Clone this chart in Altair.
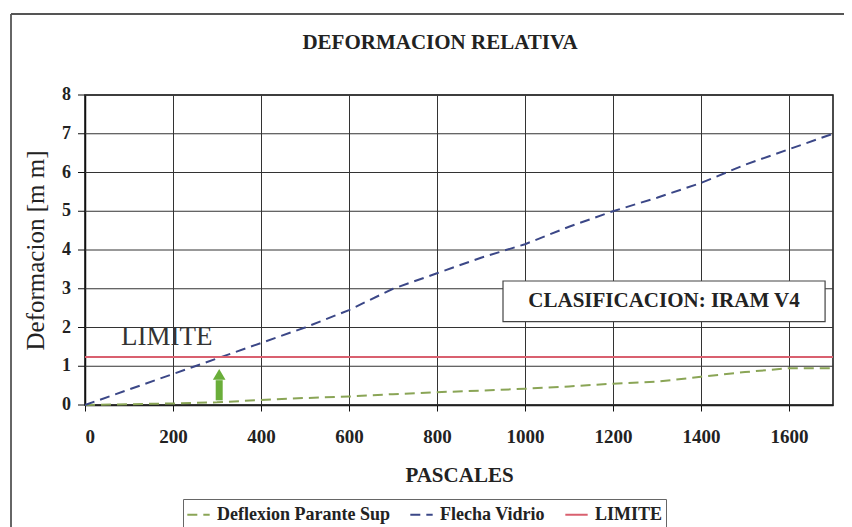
import altair as alt
import pandas as pd

# ---- data ----
pascales = [0, 100, 200, 300, 400, 500, 600, 700, 800, 900, 1000, 1100, 1200, 1300, 1400, 1500, 1600, 1700]
flecha_vidrio = [0, 0.40, 0.80, 1.20, 1.60, 2.00, 2.45, 3.00, 3.40, 3.80, 4.15, 4.60, 5.00, 5.35, 5.73, 6.20, 6.60, 7.00]
deflexion_parante = [0, 0.02, 0.04, 0.07, 0.13, 0.18, 0.22, 0.28, 0.33, 0.37, 0.42, 0.48, 0.55, 0.60, 0.73, 0.85, 0.95, 0.95]
limite_value = 1.24
limite_x = [0, 1700]

series_names = ["Deflexion Parante Sup", "Flecha Vidrio", "LIMITE"]
series_colors = ["#8aa556", "#3b4787", "#d9606f"]

x_ticks = [0, 200, 400, 600, 800, 1000, 1200, 1400, 1600]
y_ticks = [0, 1, 2, 3, 4, 5, 6, 7, 8]
x_domain = [0, 1700]
y_domain = [0, 8]

arrow_x = [305]
arrow_y0 = [0.12]
arrow_y1 = [0.64]
arrow_head_y = [0.79]

limite_label = ["LIMITE"]
limite_label_x = [186]
limite_label_y = [1.76]

clasif_text = ["CLASIFICACION: IRAM V4"]
clasif_x0, clasif_x1 = [950], [1682]
clasif_y0, clasif_y1 = [2.15], [3.2]

# ---- tables ----
rows = []
for p, v in zip(pascales, deflexion_parante):
    rows.append({"x": p, "y": v, "serie": series_names[0]})
for p, v in zip(pascales, flecha_vidrio):
    rows.append({"x": p, "y": v, "serie": series_names[1]})
for p in limite_x:
    rows.append({"x": p, "y": limite_value, "serie": series_names[2]})
lines_df = pd.DataFrame(rows)

SERIF = "Liberation Serif"

xs = alt.Scale(domain=x_domain, nice=False, zero=False)
ys = alt.Scale(domain=y_domain, nice=False)
x_axis = alt.Axis(values=x_ticks, title="PASCALES", format="d", labelOverlap=False)
y_axis = alt.Axis(title="Deformacion [m m]", grid=False, labels=False, ticks=False)


def X(field):
    return alt.X(field, type="quantitative", scale=xs, axis=x_axis)


def Y(field):
    return alt.Y(field, type="quantitative", scale=ys, axis=y_axis)


# horizontal grid, y ticks and y labels drawn from y_ticks through the y scale
yt_df = pd.DataFrame({"v": y_ticks, "x0": [x_domain[0]] * len(y_ticks),
                      "x1": [x_domain[1]] * len(y_ticks)})
y_grid = alt.Chart(yt_df).mark_rule(color="#333", strokeWidth=1).encode(
    x=X("x0"), x2="x1:Q", y=Y("v"))
y_tickmarks = alt.Chart(yt_df).mark_rule(color="#111", strokeWidth=1).encode(
    x=alt.value(-7), x2=alt.value(0), y=Y("v"))
y_labels = alt.Chart(yt_df).mark_text(font=SERIF, fontSize=18, fontWeight="bold",
                                      color="#222", align="right", baseline="middle",
                                      dx=-14).encode(
    x=alt.value(0), y=Y("v"), text=alt.Text("v:Q", format="d"))

box_df = pd.DataFrame({"t": clasif_text, "x0": clasif_x0, "x1": clasif_x1,
                       "y0": clasif_y0, "y1": clasif_y1,
                       "xm": [(clasif_x0[0] + clasif_x1[0]) / 2],
                       "ym": [(clasif_y0[0] + clasif_y1[0]) / 2]})
box = alt.Chart(box_df).mark_rect(fill="white", stroke="#444", strokeWidth=1.2).encode(
    x=X("x0"), x2="x1:Q", y=Y("y0"), y2="y1:Q")
box_text = alt.Chart(box_df).mark_text(font=SERIF, fontSize=21, fontWeight="bold",
                                       color="#222").encode(
    x=X("xm"), y=Y("ym"), text="t:N")

lines = alt.Chart(lines_df).mark_line(strokeWidth=2).encode(
    x=X("x"),
    y=Y("y"),
    color=alt.Color("serie:N",
                    scale=alt.Scale(domain=series_names, range=series_colors),
                    legend=alt.Legend(title=None, orient="none", direction="horizontal",
                                      legendX=98, legendY=404,
                                      symbolType="stroke", symbolSize=500,
                                      symbolStrokeWidth=2, labelFont=SERIF,
                                      labelFontSize=18, labelFontWeight="bold",
                                      labelColor="#222", columnPadding=16,
                                      labelOffset=6, padding=3, labelLimit=400,
                                      strokeColor="#666", fillColor="white")),
    strokeDash=alt.StrokeDash("serie:N",
                              scale=alt.Scale(domain=series_names,
                                              range=[[10, 6], [10, 6], [1, 0]]),
                              legend=None),
    detail="serie:N",
)

arrow_df = pd.DataFrame({"x": arrow_x, "y0": arrow_y0, "y1": arrow_y1, "yh": arrow_head_y})
arrow_shaft = alt.Chart(arrow_df).mark_rule(color="#6aae3a", strokeWidth=7).encode(
    x=X("x"), y=Y("y0"), y2="y1:Q")
arrow_head = alt.Chart(arrow_df).mark_point(shape="triangle-up", filled=True,
                                            color="#6aae3a", size=160, opacity=1).encode(
    x=X("x"), y=Y("yh"))

lim_df = pd.DataFrame({"t": limite_label, "x": limite_label_x, "y": limite_label_y})
lim_text = alt.Chart(lim_df).mark_text(font=SERIF, fontSize=27, color="#333").encode(
    x=X("x"), y=Y("y"), text="t:N")

# outer frame of the scanned sheet (decoration)
frame_left = alt.Chart(pd.DataFrame({"a": [0]})).mark_rule(color="#333", strokeWidth=1.5).encode(
    x=alt.value(-74), y=alt.value(-81), y2=alt.value(440))
frame_top = alt.Chart(pd.DataFrame({"a": [0]})).mark_rule(color="#555", strokeWidth=2).encode(
    x=alt.value(-74), x2=alt.value(767), y=alt.value(-81))

chart = alt.layer(
    y_grid, box, lines, arrow_shaft, arrow_head, lim_text, box_text,
    y_tickmarks, y_labels, frame_left, frame_top
).properties(
    width=748, height=310,
    title=alt.TitleParams("DEFORMACION RELATIVA", font=SERIF, fontSize=21,
                          fontWeight="bold", color="#222", anchor="middle",
                          frame="group", baseline="alphabetic",
                          dx=-19, offset=-57),
    autosize=alt.AutoSizeParams(type="none"),
    padding={"left": 77, "top": 87, "right": 11, "bottom": 122},
).configure_view(
    stroke="#111", strokeWidth=1.5
).configure_axis(
    domain=True, domainColor="#111", domainWidth=1.5,
    gridColor="#333", gridWidth=1, gridOpacity=1,
    tickColor="#111", tickSize=6,
    labelFont=SERIF, labelFontSize=19, labelFontWeight="bold", labelColor="#222",
    titleFont=SERIF, titleColor="#222",
).configure_axisX(
    grid=True, labelPadding=16, titlePadding=18, titleFontSize=21, titleFontWeight="bold",
).configure_axisY(
    grid=False, titlePadding=37, titleFontSize=25, titleFontWeight="normal",
)

chart.save("out.html", embed_options={"renderer": "svg", "actions": False})
